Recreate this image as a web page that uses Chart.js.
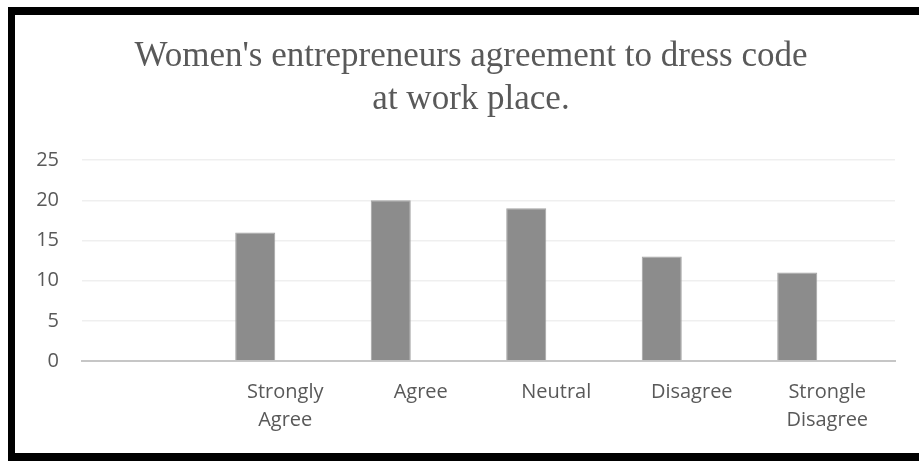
<!DOCTYPE html>
<html>
<head>
<meta charset="utf-8">
<script src="https://cdn.jsdelivr.net/npm/chart.js@4"></script>
<style>
  html, body { margin: 0; padding: 0; background: #fff; overflow: hidden; width: 919px; height: 461px; }
  .edge { position: absolute; background: #000; }
  #edgeLeft { left: 8px; top: 7px; width: 7px; height: 454px; }
  #edgeTop { left: 8px; top: 7px; width: 911px; height: 8px; }
  #edgeBottom { left: 8px; top: 453px; width: 911px; height: 8px; }
  #box { position: absolute; left: 15px; top: 15px; width: 904px; height: 438px; background: #fff; }
</style>
</head>
<body>
<div class="edge" id="edgeLeft"></div>
<div class="edge" id="edgeTop"></div>
<div class="edge" id="edgeBottom"></div>
<div id="box"><canvas id="chart"></canvas></div>
<script>
// categories (first slot is left blank on the axis)
const categories = ['', ['Strongly', 'Agree'], 'Agree', 'Neutral', 'Disagree', ['Strongle', 'Disagree']];
const responses = [null, 16, 20, 19, 13, 11];
const emptySeries = [null, null, null, null, null, null];
const yTicks = [0, 5, 10, 15, 20, 25];

const grey = '#595959';
const tickFont = { family: '"Open Sans", sans-serif', size: 20, lineHeight: 1.4 };

new Chart(document.getElementById('chart').getContext('2d'), {
  type: 'bar',
  data: {
    labels: categories,
    datasets: [
      { label: 'Responses', data: responses, backgroundColor: '#8c8c8c', borderColor: '#a3a3a3', borderWidth: 1,
        barPercentage: 0.667, categoryPercentage: 0.886 },
      { label: '', data: emptySeries, backgroundColor: '#8c8c8c',
        barPercentage: 0.667, categoryPercentage: 0.886 }
    ]
  },
  options: {
    responsive: true,
    maintainAspectRatio: false,
    animation: false,
    layout: { padding: { left: 8, right: 0, top: 20, bottom: 0 } },
    plugins: {
      legend: { display: false },
      tooltip: { enabled: false },
      title: {
        display: true,
        text: ["Women's entrepreneurs agreement to dress code", 'at work place.'],
        color: grey,
        font: { family: '"Liberation Serif", "DejaVu Serif", serif', size: 35, weight: 'normal', lineHeight: 1.23 },
        padding: { top: 0, bottom: 39 }
      }
    },
    scales: {
      x: {
        grid: { display: false, drawTicks: false },
        border: { display: true, color: '#c6c6c6', width: 2 },
        ticks: { color: grey, font: tickFont, padding: 17, maxRotation: 0, autoSkip: false },
        afterFit: (scale) => { scale.height = 92; }
      },
      y: {
        min: 0, max: 25,
        afterBuildTicks: (scale) => { scale.ticks = yTicks.map(v => ({ value: v })); },
        grid: { color: '#efefef', lineWidth: 1.5, drawTicks: false },
        border: { display: false },
        ticks: { color: grey, font: tickFont, padding: 23 },
        afterFit: (scale) => { scale.width = 59; }
      },
      // blank right-hand margin beside the plot
      yRight: {
        position: 'right',
        min: 0, max: 25,
        grid: { display: false, drawTicks: false },
        border: { display: false },
        ticks: { display: false },
        afterFit: (scale) => { scale.width = 24; }
      }
    }
  }
});
</script>
</body>
</html>
